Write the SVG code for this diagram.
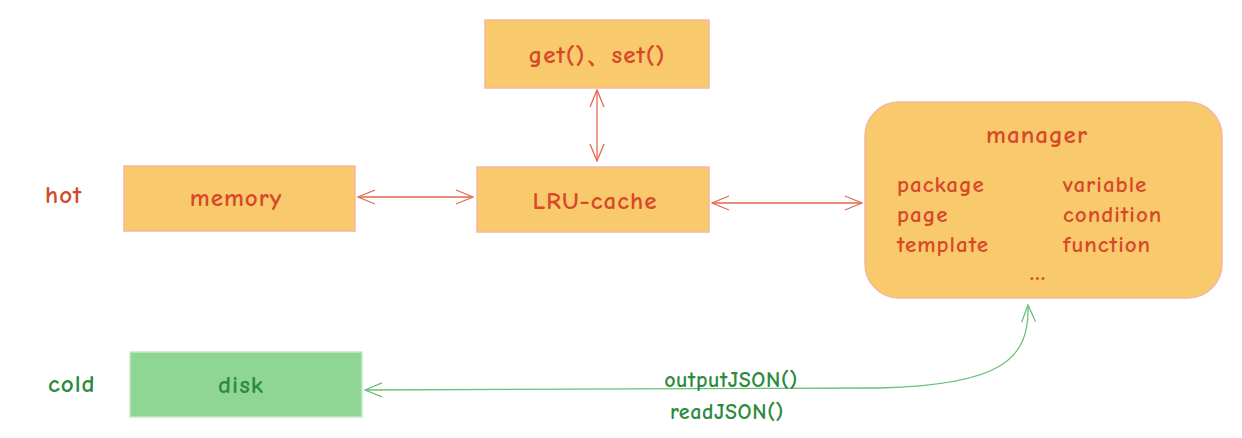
<svg xmlns="http://www.w3.org/2000/svg" width="1242" height="438" viewBox="0 0 1242 438">
<style>
.box{fill:#f9ca6b;stroke:#f3b7a6;stroke-width:1.5}
.gbox{fill:#8fd694;stroke:#c9e8c8;stroke-width:1.5}
.t{font-family:"Comic Neue","Lato","Liberation Sans",sans-serif;font-size:25px;font-weight:bold;letter-spacing:1px;fill:#d6492b;text-anchor:middle}
.m{font-size:23px;letter-spacing:1px}
.s{font-size:22px;letter-spacing:0.6px}
.tl{text-anchor:start}
.g{fill:#2e8a40}
.c{fill:none;stroke:#e06a50;stroke-width:1.3}
.gc{fill:none;stroke:#6bbf78;stroke-width:1.3}
</style>
<defs>
<marker id="ar" viewBox="0 0 20 20" refX="19" refY="10" markerWidth="20" markerHeight="20" markerUnits="userSpaceOnUse" orient="auto-start-reverse">
<path d="M2,3 L19,10 L2,17" fill="none" stroke="#e06a50" stroke-width="1.3"/>
</marker>
<marker id="ag" viewBox="0 0 20 20" refX="19" refY="10" markerWidth="20" markerHeight="20" markerUnits="userSpaceOnUse" orient="auto-start-reverse">
<path d="M2,3 L19,10 L2,17" fill="none" stroke="#6bbf78" stroke-width="1.3"/>
</marker>
</defs>
<g id="connectors">
<line class="c" x1="358" y1="197" x2="473" y2="197" marker-start="url(#ar)" marker-end="url(#ar)"/>
<line class="c" x1="597" y1="90" x2="597" y2="161" marker-start="url(#ar)" marker-end="url(#ar)"/>
<line class="c" x1="712" y1="203" x2="862" y2="203" marker-start="url(#ar)" marker-end="url(#ar)"/>
<path class="gc" d="M1028,305 C1030,360 1000,385 880,388 L365,390" marker-start="url(#ag)" marker-end="url(#ag)"/>
<text class="t s g" x="731" y="387">outputJSON()</text>
<text class="t s g" x="727" y="419">readJSON()</text>
</g>
<g id="hot"><text class="t tl" x="45" y="203">hot</text></g>
<g id="cold"><text class="t tl g" x="48" y="392">cold</text></g>
<g id="getset">
<rect class="box" x="485" y="20" width="224" height="68"/>
<text class="t" x="597" y="63">get()、set()</text>
</g>
<g id="memory">
<rect class="box" x="124" y="166" width="231" height="65"/>
<text class="t" x="236" y="206">memory</text>
</g>
<g id="lru">
<rect class="box" x="477" y="167" width="232" height="65"/>
<text class="t" x="595" y="209">LRU-cache</text>
</g>
<g id="manager">
<rect class="box" x="865" y="102" width="357" height="196" rx="34"/>
<text class="t" x="1037" y="143">manager</text>
<text class="t m tl" x="897" y="192">package</text>
<text class="t m tl" x="897" y="222">page</text>
<text class="t m tl" x="897" y="252">template</text>
<text class="t m tl" x="1063" y="192">variable</text>
<text class="t m tl" x="1063" y="222">condition</text>
<text class="t m tl" x="1063" y="252">function</text>
<text class="t" x="1038" y="280" letter-spacing="0">...</text>
</g>
<g id="disk">
<rect class="gbox" x="130" y="352" width="232" height="65"/>
<text class="t g" x="241" y="393">disk</text>
</g>
</svg>
